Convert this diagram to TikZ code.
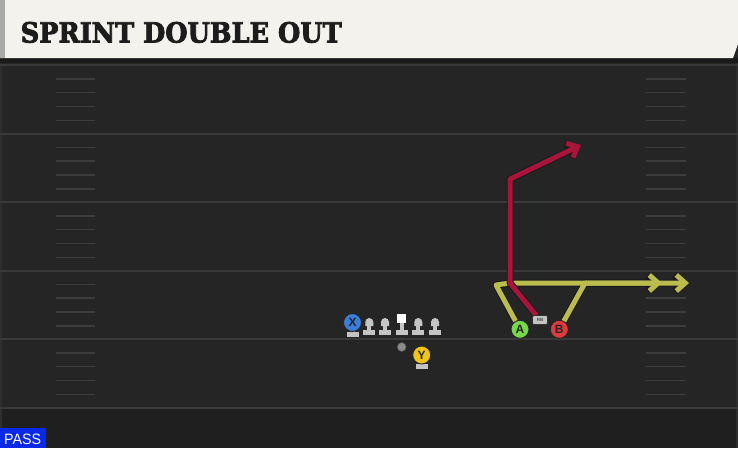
\documentclass[tikz,border=0pt]{standalone}
\usepackage{fontspec}
\usetikzlibrary{arrows.meta}
\newfontfamily\titlefont[FakeBold=3]{DejaVu Serif}
\newfontfamily\labelfont{Liberation Sans}
\definecolor{fieldbg}{HTML}{252525}
\definecolor{fielddark}{HTML}{1F1F1F}
\definecolor{bandcol}{HTML}{1A1A1A}
\definecolor{yardcol}{HTML}{3A3A3A}
\definecolor{hashcol}{HTML}{3D3D3D}
\definecolor{headerbg}{HTML}{F4F2EC}
\definecolor{headerstrip}{HTML}{A8AAA7}
\definecolor{titlecol}{HTML}{1C1C1C}
\definecolor{routered}{HTML}{A8143A}
\definecolor{routeyel}{HTML}{BCBC4E}
\definecolor{xblue}{HTML}{3B7DD8}
\definecolor{ayel}{HTML}{F0C419}
\definecolor{agreen}{HTML}{78D84A}
\definecolor{bred}{HTML}{E0393E}
\definecolor{linecol}{HTML}{C4C4C4}
\definecolor{qbgray}{HTML}{8A8A8A}
\definecolor{passblue}{HTML}{0A28E8}
\tikzset{
  yardline/.style={draw=yardcol, line width=2pt},
  hashline/.style={draw=hashcol, line width=1.8pt},
  player/.style={circle, draw=black!85, line width=0.9pt, minimum size=18pt, inner sep=0pt,
    font=\labelfont\bfseries\fontsize{12}{12}\selectfont, text=black!85},
  rbbox/.style={rounded corners=2pt, fill=linecol, draw=black!80, line width=0.6pt,
    minimum width=15pt, minimum height=9pt, inner sep=0pt,
    font=\labelfont\bfseries\fontsize{4.5}{4.5}\selectfont, text=black!70},
  outline/.style={draw=black!90, line width=7pt, line join=round},
  yroute/.style={draw=routeyel, line width=5pt, line join=round},
  rroute/.style={draw=routered, line width=5pt, line join=round},
  tip/.style={-{Straight Barb[length=9pt,width=16pt]}},
  pics/lineman/.style={code={
    \fill[black!85] (-7,7) rectangle (7,14);
    \fill[black!85] (-3,3) rectangle (3,9);
    \fill[black!85] (-5,0) -- (-5,5) -- (5,5) -- (5,0) arc[start angle=0, end angle=-180, radius=5] -- cycle;
    \fill[linecol] (-6,8) rectangle (6,13);
    \fill[linecol] (-2,4) rectangle (2,8.5);
    \fill[linecol] (-4,0) -- (-4,4) -- (4,4) -- (4,0) arc[start angle=0, end angle=-180, radius=4] -- cycle;
  }},
  pics/center/.style={code={
    \fill[black!85] (-7,6.5) rectangle (7,13.5);
    \fill[black!85] (-5.5,-9.5) rectangle (5.5,1.5);
    \fill[linecol] (-6,7.5) rectangle (6,12.5);
    \fill[linecol] (-2,0) rectangle (2,8);
    \fill[white] (-4.5,-8.5) rectangle (4.5,0.5);
  }},
  pics/pedestal/.style={code={
    \fill[black!85] (-7,8) rectangle (7,15);
    \fill[linecol] (-6,9) rectangle (6,14);
    \fill[linecol] (-2,5) rectangle (2,9.5);
  }}
}
\begin{document}
\begin{tikzpicture}[x=1pt,y=-1pt]
\useasboundingbox (0,0) rectangle (738,448);
% field
\fill[fieldbg] (0,0) rectangle (738,448);
\fill[fielddark] (0,409) rectangle (738,448);
\fill[bandcol] (0,58) rectangle (738,63);
\fill[yardcol!80!black] (0,63) rectangle (2,448);
\fill[yardcol!80!black] (736,63) rectangle (738,448);
\foreach \y in {65,133.5,202,270.5,339,408.3}
  \draw[yardline] (0,\y) -- (738,\y);
\foreach \b in {65,133.5,202,270.5,339}
  \foreach \o in {14,27.5,41.5,55.5} {
    \draw[hashline] (56,\b+\o) -- (95,\b+\o);
    \draw[hashline] (646,\b+\o) -- (686,\b+\o);
  }
% header
\fill[headerbg] (0,0) -- (738,0) -- (738,44) -- (733,58) -- (0,58) -- cycle;
\fill[headerstrip] (0,0) rectangle (5,58);
\node[anchor=north west, inner sep=0pt, text=titlecol] (title) at (20.5,21.7)
  {\resizebox{321pt}{20.6pt}{\titlefont\bfseries SPRINT DOUBLE OUT}};
% line
\pic (lt) at (369.3,322) {lineman};
\pic (lg) at (385,322) {lineman};
\pic (c) at (401.7,322) {center};
\pic (rg) at (418.3,322) {lineman};
\pic (rt) at (435,322) {lineman};
\pic (xp) at (352.5,322.5) {pedestal};
\pic (yp) at (421.7,355) {pedestal};
% players
\node[player, fill=xblue] (X) at (352.5,322.5) {X};
\node[player, fill=ayel] (Y) at (421.7,355) {Y};
\node[circle, fill=qbgray, draw=black!70, line width=0.6pt, minimum size=9pt, inner sep=0pt] (QB) at (401.7,347) {};
\node[player, fill=agreen] (A) at (520,329.3) {A};
\node[player, fill=bred] (B) at (559.3,329.3) {B};
\node[rbbox] (RB) at (540,320) {RB};
% route points
\coordinate (a1) at (496,285);
\coordinate (a2) at (510,283);
\coordinate (a3) at (662,283);
\coordinate (b1) at (585,283);
\coordinate (b2) at (689,283);
\coordinate (r1) at (510,283);
\coordinate (r2) at (510,179);
\coordinate (r3) at (581,145);
% yellow routes
\draw[outline, tip] (A) -- (a1) -- (a2) -- (a3);
\draw[outline, tip] (B) -- (b1) -- (b2);
\draw[yroute, tip] (A) -- (a1) -- (a2) -- (a3);
\draw[yroute, tip] (B) -- (b1) -- (b2);
% red route
\draw[outline, tip] (RB) -- (r1) -- (r2) -- (r3);
\draw[rroute, tip] (RB) -- (r1) -- (r2) -- (r3);
\node[rbbox] (RBtop) at (RB) {RB};
% pass tag
\fill[passblue] (0,428) rectangle (46,448);
\node[anchor=south west, inner sep=0pt, text=white] (pass) at (4,445.3)
  {\resizebox{37pt}{10.5pt}{\labelfont PASS}};
\end{tikzpicture}
\end{document}
